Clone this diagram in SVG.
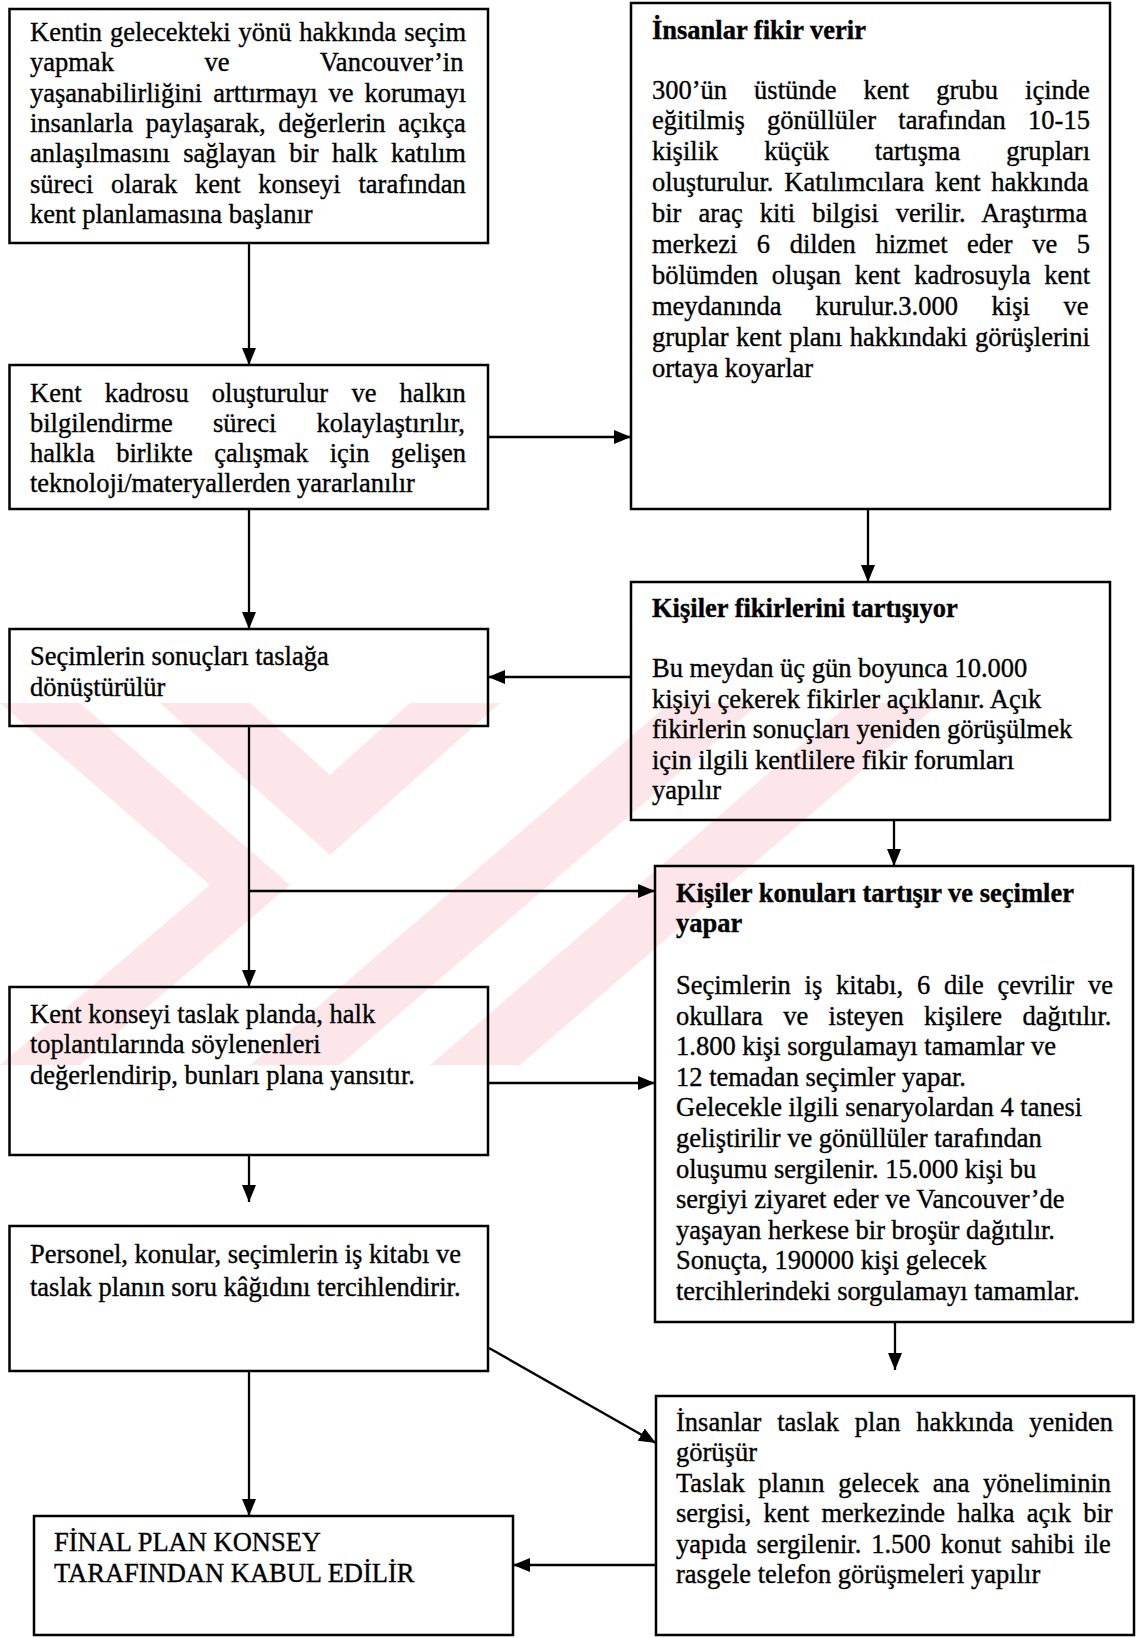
<svg xmlns="http://www.w3.org/2000/svg" width="1144" height="1638" viewBox="0 0 1144 1638">
<defs>
<style>
.box{fill:none;stroke:#000;stroke-width:2.5}
.t{font-family:"Liberation Serif","Times New Roman",serif;font-size:26.5px;fill:#000;stroke:#000;stroke-width:0.35}
.b{font-weight:bold}
.c{fill:none;stroke:#000;stroke-width:2.3}
.wm{fill:#fce6e9;stroke:none}
</style>
<marker id="ah" markerUnits="userSpaceOnUse" markerWidth="18" markerHeight="16" refX="17" refY="7" orient="auto">
<path d="M0,0 L17,7 L0,14 z" fill="#000"/>
</marker>
</defs>
<rect width="1144" height="1638" fill="#fff"/>

<g id="watermark">
<polygon class="wm" points="0,703 80,703 290,885 80,1065 0,1065 210,885"/>
<polygon class="wm" points="160,703 250,703 330,775 410,703 500,703 330,855"/>
<polygon class="wm" points="250,1065 340,1065 760,703 670,703"/>
<polygon class="wm" points="430,1065 520,1065 940,703 850,703"/>
</g>

<g id="connectors">
<line class="c" x1="249" y1="243" x2="249" y2="365" marker-end="url(#ah)"/>
<line class="c" x1="488" y1="437" x2="631" y2="437" marker-end="url(#ah)"/>
<line class="c" x1="868" y1="509" x2="868" y2="582" marker-end="url(#ah)"/>
<line class="c" x1="631" y1="677" x2="488" y2="677" marker-end="url(#ah)"/>
<line class="c" x1="249" y1="509" x2="249" y2="629" marker-end="url(#ah)"/>
<line class="c" x1="249" y1="726" x2="249" y2="987" marker-end="url(#ah)"/>
<line class="c" x1="249" y1="891" x2="655" y2="891" marker-end="url(#ah)"/>
<line class="c" x1="894" y1="820" x2="894" y2="866" marker-end="url(#ah)"/>
<line class="c" x1="488" y1="1083" x2="655" y2="1083" marker-end="url(#ah)"/>
<line class="c" x1="249" y1="1155" x2="249" y2="1202" marker-end="url(#ah)"/>
<line class="c" x1="895" y1="1322" x2="895" y2="1370" marker-end="url(#ah)"/>
<line class="c" x1="489" y1="1348" x2="656" y2="1443" marker-end="url(#ah)"/>
<line class="c" x1="249" y1="1371" x2="249" y2="1516" marker-end="url(#ah)"/>
<line class="c" x1="656" y1="1565" x2="513" y2="1565" marker-end="url(#ah)"/>
</g>

<g id="nodeA">
<rect class="box" x="9.5" y="9" width="478.5" height="234"/>
<text class="t" x="30" y="41" word-spacing="1.2">Kentin gelecekteki yönü hakkında seçim</text>
<text class="t" x="30" y="71.3" word-spacing="84">yapmak ve Vancouver’in</text>
<text class="t" x="30" y="101.6" word-spacing="4.3">yaşanabilirliğini arttırmayı ve korumayı</text>
<text class="t" x="30" y="131.9" word-spacing="6">insanlarla paylaşarak, değerlerin açıkça</text>
<text class="t" x="30" y="162.2" word-spacing="6.7">anlaşılmasını sağlayan bir halk katılım</text>
<text class="t" x="30" y="192.5" word-spacing="11.1">süreci olarak kent konseyi tarafından</text>
<text class="t" x="30" y="222.8">kent planlamasına başlanır</text>
</g>

<g id="nodeB">
<rect class="box" x="631" y="3" width="479" height="506"/>
<text class="t b" x="652" y="38.5">İnsanlar fikir verir</text>
<text class="t" x="652" y="98.5" word-spacing="20.4">300’ün üstünde kent grubu içinde</text>
<text class="t" x="652" y="129.4" word-spacing="15.7">eğitilmiş gönüllüler tarafından 10-15</text>
<text class="t" x="652" y="160.3" word-spacing="39.3">kişilik küçük tartışma grupları</text>
<text class="t" x="652" y="191.2" word-spacing="4.2">oluşturulur. Katılımcılara kent hakkında</text>
<text class="t" x="652" y="222.1" word-spacing="10.5">bir araç kiti bilgisi verilir. Araştırma</text>
<text class="t" x="652" y="253" word-spacing="12.9">merkezi 6 dilden hizmet eder ve 5</text>
<text class="t" x="652" y="283.9" word-spacing="7.2">bölümden oluşan kent kadrosuyla kent</text>
<text class="t" x="652" y="314.8" word-spacing="27">meydanında kurulur.3.000 kişi ve</text>
<text class="t" x="652" y="345.7" word-spacing="0.9">gruplar kent planı hakkındaki görüşlerini</text>
<text class="t" x="652" y="376.6">ortaya koyarlar</text>
</g>

<g id="nodeC">
<rect class="box" x="9.5" y="365" width="478.5" height="144"/>
<text class="t" x="30" y="401.5" word-spacing="16.6">Kent kadrosu oluşturulur ve halkın</text>
<text class="t" x="30" y="431.8" word-spacing="33.6">bilgilendirme süreci kolaylaştırılır,</text>
<text class="t" x="30" y="462.1" word-spacing="14.8">halkla birlikte çalışmak için gelişen</text>
<text class="t" x="30" y="492.4">teknoloji/materyallerden yararlanılır</text>
</g>

<g id="nodeD">
<rect class="box" x="631" y="582" width="479" height="238"/>
<text class="t b" x="652" y="617">Kişiler fikirlerini tartışıyor</text>
<text class="t" x="652" y="677">Bu meydan üç gün boyunca 10.000</text>
<text class="t" x="652" y="707.5">kişiyi çekerek fikirler açıklanır. Açık</text>
<text class="t" x="652" y="738">fikirlerin sonuçları yeniden görüşülmek</text>
<text class="t" x="652" y="768.5">için ilgili kentlilere fikir forumları</text>
<text class="t" x="652" y="799">yapılır</text>
</g>

<g id="nodeE">
<rect class="box" x="9.5" y="629" width="478.5" height="97"/>
<text class="t" x="30" y="665">Seçimlerin sonuçları taslağa</text>
<text class="t" x="30" y="696">dönüştürülür</text>
</g>

<g id="nodeF">
<rect class="box" x="655" y="866" width="478" height="456"/>
<text class="t b" x="676" y="902">Kişiler konuları tartışır ve seçimler</text>
<text class="t b" x="676" y="931.5">yapar</text>
<text class="t" x="676" y="994" word-spacing="7.2">Seçimlerin iş kitabı, 6 dile çevrilir ve</text>
<text class="t" x="676" y="1024.6" word-spacing="13.75">okullara ve isteyen kişilere dağıtılır.</text>
<text class="t" x="676" y="1055.2">1.800 kişi sorgulamayı tamamlar ve</text>
<text class="t" x="676" y="1085.8">12 temadan seçimler yapar.</text>
<text class="t" x="676" y="1116.4">Gelecekle ilgili senaryolardan 4 tanesi</text>
<text class="t" x="676" y="1147">geliştirilir ve gönüllüler tarafından</text>
<text class="t" x="676" y="1177.6">oluşumu sergilenir. 15.000 kişi bu</text>
<text class="t" x="676" y="1208.2">sergiyi ziyaret eder ve Vancouver’de</text>
<text class="t" x="676" y="1238.8">yaşayan herkese bir broşür dağıtılır.</text>
<text class="t" x="676" y="1269.4">Sonuçta, 190000 kişi gelecek</text>
<text class="t" x="676" y="1300">tercihlerindeki sorgulamayı tamamlar.</text>
</g>

<g id="nodeG">
<rect class="box" x="9.5" y="987" width="478.5" height="168"/>
<text class="t" x="30" y="1022.5">Kent konseyi taslak planda, halk</text>
<text class="t" x="30" y="1053">toplantılarında söylenenleri</text>
<text class="t" x="30" y="1083.5">değerlendirip, bunları plana yansıtır.</text>
</g>

<g id="nodeH">
<rect class="box" x="9.5" y="1226" width="478.5" height="145"/>
<text class="t" x="30" y="1263">Personel, konular, seçimlerin iş kitabı ve</text>
<text class="t" x="30" y="1295.5">taslak planın soru kâğıdını tercihlendirir.</text>
</g>

<g id="nodeI">
<rect class="box" x="656" y="1396" width="478" height="239"/>
<text class="t" x="676" y="1431" word-spacing="9.2">İnsanlar taslak plan hakkında yeniden</text>
<text class="t" x="676" y="1461.4">görüşür</text>
<text class="t" x="676" y="1491.8" word-spacing="6.95">Taslak planın gelecek ana yöneliminin</text>
<text class="t" x="676" y="1522.2" word-spacing="5.6">sergisi, kent merkezinde halka açık bir</text>
<text class="t" x="676" y="1552.6" word-spacing="3.3">yapıda sergilenir. 1.500 konut sahibi ile</text>
<text class="t" x="676" y="1583">rasgele telefon görüşmeleri yapılır</text>
</g>

<g id="nodeJ">
<rect class="box" x="34" y="1516" width="479" height="119"/>
<text class="t" x="54" y="1551">FİNAL PLAN KONSEY</text>
<text class="t" x="54" y="1582">TARAFINDAN KABUL EDİLİR</text>
</g>
</svg>
